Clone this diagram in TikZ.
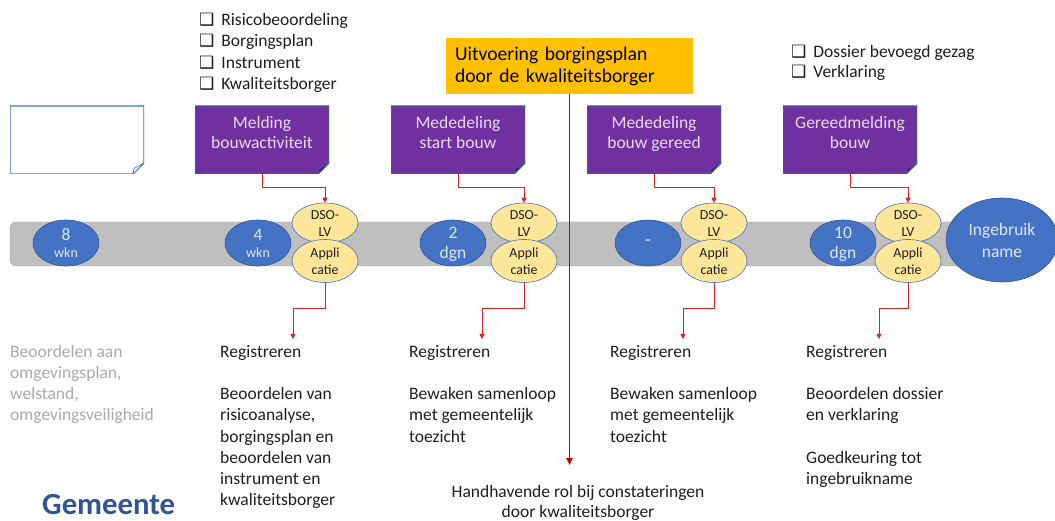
\documentclass[tikz,border=0pt]{standalone}
\usepackage{fontspec}
\setmainfont{Carlito}
\newfontfamily\symfont{DejaVu Sans}
\usetikzlibrary{arrows.meta,positioning,calc,shapes.geometric}
\definecolor{mspurple}{RGB}{112,48,160}
\definecolor{foldpurple}{RGB}{80,36,120}
\definecolor{boxedge}{RGB}{65,90,150}
\definecolor{msblue}{RGB}{68,114,196}
\definecolor{msdarkblue}{RGB}{47,85,151}
\definecolor{msgold}{RGB}{255,192,0}
\definecolor{mslight}{RGB}{255,230,153}
\definecolor{barfill}{RGB}{191,191,191}
\definecolor{barline}{RGB}{160,160,160}
\definecolor{darkred}{RGB}{192,0,0}
\definecolor{linkred}{RGB}{215,35,35}
\definecolor{lavender}{RGB}{232,218,246}
\definecolor{bubbletext}{RGB}{222,232,248}
\definecolor{softgray}{RGB}{170,170,170}
\definecolor{ink}{RGB}{30,30,30}
\newcommand{\chk}{{\symfont\fontsize{17}{17}\selectfont ❑}\hspace{7pt}}

\begin{document}
\begin{tikzpicture}[x=1pt,y=-1pt,
  every node/.style={font=\fontsize{17.5}{21.2}\selectfont, text=ink},
  folded/.style n args={3}{fill=white, minimum width=134pt, minimum height=68pt,
    inner sep=0pt, align=center,
    path picture={
      \filldraw[fill=#1, draw=#2, line width=1.4pt]
        (path picture bounding box.north west) -- (path picture bounding box.north east)
        -- ([yshift=11pt]path picture bounding box.south east)
        -- ([xshift=-11pt]path picture bounding box.south east)
        -- (path picture bounding box.south west) -- cycle;
      \filldraw[fill=#3, draw=#2, line width=0.7pt]
        ([yshift=11pt]path picture bounding box.south east)
        -- ([xshift=-11pt]path picture bounding box.south east)
        -- ([xshift=-10pt,yshift=5.5pt]path picture bounding box.south east) -- cycle;
    }},
  notebox/.style={folded={white}{msblue}{white}},
  purplebox/.style={folded={mspurple}{boxedge}{foldpurple}, text=lavender,
    font=\fontsize{17.5}{20}\selectfont},
  goldbox/.style={fill=msgold, minimum width=247pt, minimum height=56pt,
    text width=229pt, inner xsep=9pt, align=left, text=black,
    font=\fontsize{19.6}{22}\selectfont},
  daybubble/.style={ellipse, fill=msblue, draw=msdarkblue, line width=0.6pt,
    minimum width=66pt, minimum height=46pt, inner sep=0pt, align=center,
    text=bubbletext, font=\fontsize{17.5}{20}\selectfont},
  lvbubble/.style={ellipse, fill=mslight, draw=msblue, line width=0.6pt,
    minimum width=66pt, inner sep=0pt, align=center,
    font=\fontsize{13.9}{17}\selectfont},
  checklist/.style={anchor=north west, align=left, inner sep=0pt},
  textcol/.style={anchor=north west, align=left, inner sep=6pt},
  link/.style={draw=linkred, line width=0.9pt, -{Triangle[length=5pt,width=5pt]}},
  mainlink/.style={draw=darkred, line width=1.8pt, -{Triangle[length=7pt,width=6pt]}}]
  \useasboundingbox (0,0) rectangle (1055,521);

  \draw[fill=barfill, draw=barline, rounded corners=6pt] (10,222) rectangle (1002,266);

  \node[notebox] (memo) at (77,140) {};
  \node[purplebox] (melding) at (262,140) {Melding\\bouwactiviteit\\[-4pt]\mbox{}};
  \node[purplebox] (start) at (458,140) {Mededeling\\start bouw\\[-4pt]\mbox{}};
  \node[purplebox] (gereed) at (654,140) {Mededeling\\bouw gereed\\[-4pt]\mbox{}};
  \node[purplebox] (gereedmelding) at (850,140) {Gereedmelding\\bouw\\[-4pt]\mbox{}};

  \node[checklist, font=\fontsize{17.5}{21.3}\selectfont] (stukken) at (199,13)
    {\chk Risicobeoordeling\\\chk Borgingsplan\\\chk Instrument\\\chk Kwaliteitsborger};
  \node[checklist, font=\fontsize{17.5}{20}\selectfont] (dossier) at (791,45)
    {\chk Dossier bevoegd gezag\\\chk Verklaring};

  \node[goldbox] (uitvoering) at (569.5,66) {Uitvoering borgingsplan\\door de kwaliteitsborger};

  \node[daybubble, font=\fontsize{17.5}{17}\selectfont] (acht) at (66,243)
    {8\\{\fontsize{14}{14}\selectfont wkn}};
  \node[daybubble, font=\fontsize{17.5}{17}\selectfont] (vier) at (258,243)
    {4\\{\fontsize{14}{14}\selectfont wkn}};
  \node[daybubble] (twee) at (453,243) {2\\\smash{dgn}};
  \node[daybubble] (streep) at (648,243) {-};
  \node[daybubble] (tien) at (843,243) {10\\\smash{dgn}};
  \node[daybubble, minimum width=112pt, minimum height=84pt,
    font=\fontsize{17.5}{22}\selectfont] (ingebruik) at (1002,240) {Ingebruik\\name};

  \node[lvbubble, minimum height=40pt] (dso1) at (325,223) {DSO-\\LV};
  \node[lvbubble, minimum height=43pt] (app1) at (325,261) {Appli\\catie};
  \node[lvbubble, minimum height=40pt] (dso2) at (524,223) {DSO-\\LV};
  \node[lvbubble, minimum height=43pt] (app2) at (524,261) {Appli\\catie};
  \node[lvbubble, minimum height=40pt] (dso3) at (714,223) {DSO-\\LV};
  \node[lvbubble, minimum height=43pt] (app3) at (714,261) {Appli\\catie};
  \node[lvbubble, minimum height=40pt] (dso4) at (908,223) {DSO-\\LV};
  \node[lvbubble, minimum height=43pt] (app4) at (908,261) {Appli\\catie};

  \node[textcol, text=softgray] (omgeving) at (4,339)
    {Beoordelen aan\\omgevingsplan,\\welstand,\\omgevingsveiligheid};
  \node[textcol] (reg1) at (214,339) {Registreren\\[21.2pt]Beoordelen van\\risicoanalyse,\\borgingsplan en\\beoordelen van\\instrument en\\kwaliteitsborger};
  \node[textcol] (reg2) at (403,339) {Registreren\\[21.2pt]Bewaken samenloop\\met gemeentelijk\\toezicht};
  \node[textcol] (reg3) at (604,339) {Registreren\\[21.2pt]Bewaken samenloop\\met gemeentelijk\\toezicht};
  \node[textcol] (reg4) at (800,339) {Registreren\\[21.2pt]Beoordelen dossier\\en verklaring\\[21.2pt]Goedkeuring tot\\ingebruikname};

  \node[align=center, inner xsep=4pt, inner ysep=20pt, anchor=north,
    font=\fontsize{17.5}{20}\selectfont] (handhaving) at (578,465)
    {Handhavende rol bij constateringen\\door kwaliteitsborger};
  \node[anchor=base west, inner sep=0pt, text=msdarkblue,
    font=\fontsize{30.7}{31}\selectfont\bfseries] (gemeente) at (42,514) {Gemeente};

  \draw[link] (melding.south) |- ($(dso1.north)+(0,-15)$) -- (dso1.north);
  \draw[link] (start.south) |- ($(dso2.north)+(0,-15)$) -- (dso2.north);
  \draw[link] (gereed.south) |- ($(dso3.north)+(0,-15)$) -- (dso3.north);
  \draw[link] (gereedmelding.south) |- ($(dso4.north)+(0,-15)$) -- (dso4.north);

  \draw[link] (app1.south) -- ++(0,26) -| ([xshift=79pt]reg1.north west);
  \draw[link] (app2.south) -- ++(0,26) -| ([xshift=79pt]reg2.north west);
  \draw[link] (app3.south) -- ++(0,26) -| ([xshift=79pt]reg3.north west);
  \draw[link] (app4.south) -- ++(0,26) -| ([xshift=79pt]reg4.north west);

  \draw[mainlink] (uitvoering.south) -- (uitvoering.south |- handhaving.north);
\end{tikzpicture}
\end{document}
